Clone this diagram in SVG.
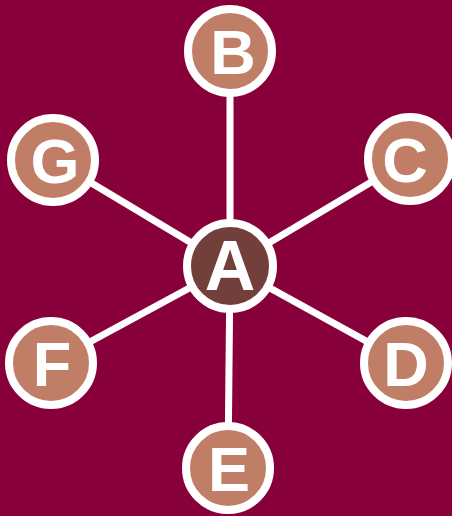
<svg xmlns="http://www.w3.org/2000/svg" width="452" height="516" viewBox="0 0 452 516">
<style>
.edge{stroke:#fff;stroke-width:7;fill:none}
.outer circle{fill:#C07E66;stroke:#fff;stroke-width:8}
.center circle{fill:#733F3A;stroke:#fff;stroke-width:8}
text{font-family:"Liberation Sans",Arial,sans-serif;font-weight:bold;fill:#fff;text-anchor:middle}
.outer text{font-size:63px}
.center text{font-size:70px}
</style>
<rect width="452" height="516" fill="#88003A"/>
<g id="connectors">
<line class="edge" x1="230" y1="266" x2="230" y2="51"/>
<line class="edge" x1="230" y1="266" x2="410" y2="159"/>
<line class="edge" x1="230" y1="266" x2="406" y2="363"/>
<line class="edge" x1="230" y1="266" x2="228" y2="468"/>
<line class="edge" x1="230" y1="266" x2="51" y2="363"/>
<line class="edge" x1="230" y1="266" x2="53" y2="160"/>
</g>
<g id="node-B" class="outer"><circle cx="230" cy="51" r="42"/><text x="233" y="74">B</text></g>
<g id="node-C" class="outer"><circle cx="410" cy="159" r="42"/><text x="405" y="182">C</text></g>
<g id="node-D" class="outer"><circle cx="406" cy="363" r="42"/><text x="406" y="386">D</text></g>
<g id="node-E" class="outer"><circle cx="228" cy="468" r="42"/><text x="229" y="491">E</text></g>
<g id="node-F" class="outer"><circle cx="51" cy="363" r="42"/><text x="52" y="386">F</text></g>
<g id="node-G" class="outer"><circle cx="53" cy="160" r="42"/><text x="55" y="183">G</text></g>
<g id="node-A" class="center"><circle cx="230" cy="266" r="43"/><text x="230" y="290">A</text></g>
</svg>
